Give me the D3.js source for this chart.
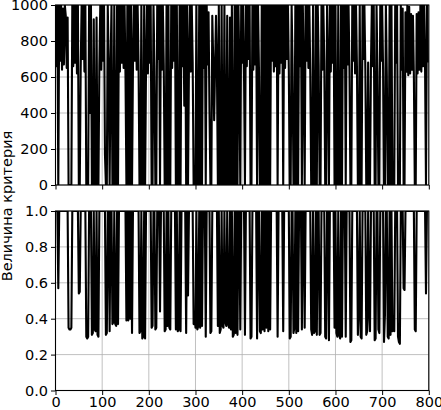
<!DOCTYPE html>
<html>
<head>
<meta charset="utf-8">
<script src="https://cdn.jsdelivr.net/npm/d3@7"></script>
<style>
  body { margin: 0; background: #fff; }
  svg { display: block; }
</style>
</head>
<body>
<svg id="chart" width="441" height="410"></svg>
<script>
// samples are taken every 2 units along x
const step = 2;

// upper panel, criterion value (0..1000)
const criterionTop = [
  1000,660,1000,0,1000,690,1000,640,980,670,1000,940,650,930,0,0,0,0,1000,660,
  1000,680,1000,620,1000,0,0,650,1000,700,1000,630,1000,0,0,0,1000,400,1000,0,
  0,920,0,0,930,0,0,660,1000,640,1000,690,1000,170,0,0,1000,670,0,650,
  1000,0,0,1000,0,0,1000,0,1000,630,1000,680,1000,650,1000,610,0,1000,0,1000,
  0,1000,0,660,1000,690,1000,640,1000,670,0,0,1000,0,0,1000,0,650,1000,620,
  1000,680,1000,0,0,1000,660,0,0,1000,700,1000,0,1000,640,1000,670,0,0,1000,
  0,1000,0,0,1000,650,1000,690,1000,0,1000,0,0,1000,0,1000,660,1000,440,1000,
  0,1000,0,660,1000,630,1000,680,0,0,0,1000,0,0,1000,0,1000,0,1000,650,
  1000,0,1000,670,960,410,0,0,940,690,360,660,940,630,0,1000,0,0,1000,0,
  0,1000,0,0,940,0,0,930,0,1000,0,0,1000,0,1000,0,1000,650,0,1000,
  680,1000,620,0,1000,660,1000,700,1000,0,0,1000,640,1000,670,1000,0,1000,650,0,
  0,1000,0,1000,0,1000,0,1000,0,1000,0,1000,690,1000,630,1000,660,1000,0,1000,
  620,1000,680,1000,0,1000,650,1000,700,1000,640,0,0,1000,670,0,0,1000,0,1000,
  0,1000,660,1000,0,1000,630,0,1000,690,1000,650,1000,620,0,0,1000,0,0,1000,
  0,1000,670,0,0,1000,640,1000,690,0,0,1000,660,0,1000,630,1000,680,1000,0,
  1000,0,0,1000,0,0,1000,0,1000,650,1000,0,1000,670,1000,640,0,0,1000,690,
  1000,620,1000,660,0,0,1000,0,0,1000,700,1000,650,0,0,680,0,0,670,1000,
  660,1000,0,0,1000,630,0,0,1000,690,1000,650,0,0,1000,620,0,0,1000,0,
  1000,0,0,0,1000,680,1000,0,0,0,1000,640,980,0,0,960,630,1000,610,990,
  620,950,640,940,610,0,0,950,620,960,640,1000,630,1000,660,1000,650,0,1000,680
];

// lower panel, normalised criterion (0..1)
const criterionBottom = [
  1,1,1,.57,1,1,1,1,1,1,1,1,1,1,.35,.34,.34,.35,1,1,
  1,1,1,1,1,.54,.55,1,1,1,1,1,1,.30,.29,.30,1,1,1,.31,
  .32,1,.34,.33,1,.31,.30,1,1,1,1,1,1,1,.31,.32,1,1,.33,1,
  1,.37,.38,1,.37,.36,1,.37,1,1,1,1,1,1,1,1,.39,1,.39,1,
  .40,1,.32,1,1,1,1,1,1,1,.32,.33,1,.29,.30,1,.29,1,1,1,
  1,1,1,.35,.36,1,1,.34,.35,1,1,1,.44,1,1,1,1,.33,.34,1,
  .36,1,.35,.34,1,1,1,1,1,.34,1,.33,.34,1,.33,1,1,1,1,1,
  .32,1,.53,1,1,1,1,1,.37,.42,.35,1,.34,.36,1,.35,1,.36,1,1,
  1,.30,1,1,1,1,.32,.33,1,1,1,1,1,1,.36,1,.32,.34,1,.36,
  .35,1,.38,.36,1,.37,.35,1,.34,1,.30,.31,1,.32,1,.31,1,1,.34,1,
  1,1,1,.31,1,1,1,1,1,.29,.30,1,1,1,1,1,.29,1,1,.33,
  .32,1,.34,1,.33,1,.35,1,.33,1,.34,1,1,1,1,1,1,1,.30,1,
  1,1,1,1,.33,1,1,1,1,1,1,.29,.30,1,1,.32,.35,1,.32,1,
  .33,1,1,1,.34,1,1,.35,1,1,1,1,1,1,.34,.31,1,.32,.33,1,
  .31,1,1,.31,.32,1,1,1,1,.30,.29,1,1,.28,1,1,1,1,1,.35,
  1,.32,.30,1,.31,.29,1,.30,1,1,1,.30,1,1,1,1,.27,.28,1,1,
  1,1,1,1,.31,.45,1,.30,.29,1,1,1,1,.31,.33,1,.44,.33,1,1,
  1,1,.28,.29,1,1,.34,.32,1,1,1,1,.27,.42,1,1,.30,.29,1,.31,
  1,.33,.38,.33,1,1,1,.30,.27,.26,1,1,1,.57,.56,1,1,1,1,1,
  1,1,1,1,1,.34,.33,1,1,1,1,1,1,1,1,1,1,.54,1,1
];

const xTicks = [0, 100, 200, 300, 400, 500, 600, 700, 800];
const topTicks = [0, 200, 400, 600, 800, 1000];
const bottomTicks = [0, 0.2, 0.4, 0.6, 0.8, 1.0];
const yLabel = 'Величина критерия';

const svg = d3.select('#chart');
const fontFamily = '"DejaVu Sans", sans-serif';
const fontSize = 14.5;

const x = d3.scaleLinear().domain([0, 800]).range([55.5, 428.8]);

function drawPanel(id, values, yDomain, yRange, yTicks, fmt, withXLabels) {
  const y = d3.scaleLinear().domain(yDomain).range(yRange);
  const g = svg.append('g').attr('class', 'panel-' + id);
  const [x0, x1] = x.range();
  const [yb, yt] = y.range();

  // grid
  g.append('g')
    .selectAll('line')
    .data(xTicks)
    .join('line')
    .attr('x1', d => x(d)).attr('x2', d => x(d))
    .attr('y1', yt).attr('y2', yb)
    .attr('stroke', '#b0b0b0')
    .attr('stroke-width', 0.8);
  g.append('g')
    .selectAll('line')
    .data(yTicks)
    .join('line')
    .attr('x1', x0).attr('x2', x1)
    .attr('y1', d => y(d)).attr('y2', d => y(d))
    .attr('stroke', '#b0b0b0')
    .attr('stroke-width', 0.8);

  // data line, clipped to the axes box
  svg.append('clipPath')
    .attr('id', 'clip-' + id)
    .append('rect')
    .attr('x', x0).attr('y', yt)
    .attr('width', x1 - x0).attr('height', yb - yt);

  const line = d3.line()
    .x((d, i) => x(i * step))
    .y(d => y(d));

  g.append('path')
    .datum(values)
    .attr('clip-path', `url(#clip-${id})`)
    .attr('d', line)
    .attr('fill', 'none')
    .attr('stroke', '#000')
    .attr('stroke-width', 2.1)
    .attr('stroke-linejoin', 'round');

  // axes
  const ya = g.append('g')
    .attr('transform', `translate(${x0},0)`)
    .call(d3.axisLeft(y).tickValues(yTicks).tickFormat(fmt).tickSize(4.5).tickPadding(3));
  const xa = g.append('g')
    .attr('transform', `translate(0,${yb})`)
    .call(d3.axisBottom(x).tickValues(xTicks).tickSize(4.5).tickPadding(2)
      .tickFormat(withXLabels ? d3.format('d') : () => ''));
  [ya, xa].forEach(a => {
    a.select('.domain').remove();
    a.attr('font-family', fontFamily).attr('font-size', fontSize);
    a.selectAll('line').attr('stroke', '#000').attr('stroke-width', 1);
    a.selectAll('text').attr('fill', '#000');
  });

  // spines
  g.append('rect')
    .attr('x', x0).attr('y', yt)
    .attr('width', x1 - x0).attr('height', yb - yt)
    .attr('fill', 'none')
    .attr('stroke', '#000')
    .attr('stroke-width', 1.1);
}

drawPanel('top', criterionTop, [0, 1000], [185, 5], topTicks, d3.format('d'), false);
drawPanel('bottom', criterionBottom, [0, 1], [390.5, 211], bottomTicks, d3.format('.1f'), true);

svg.append('text')
  .attr('transform', 'translate(12,206) rotate(-90)')
  .attr('text-anchor', 'middle')
  .attr('font-family', fontFamily)
  .attr('font-size', fontSize)
  .text(yLabel);
</script>
</body>
</html>
